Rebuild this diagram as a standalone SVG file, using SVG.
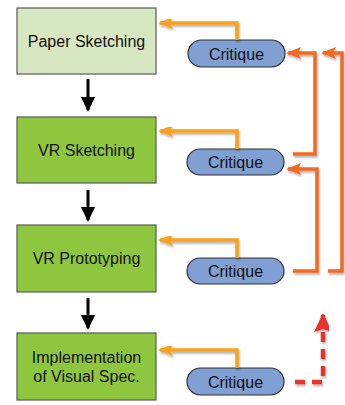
<svg xmlns="http://www.w3.org/2000/svg" width="345" height="405" viewBox="0 0 345 405">
<defs>
<style>
.box{stroke:#5a5a5a;stroke-width:1.2}
.b1{fill:#d7e7c1}
.b2{fill:#8fc63f}
.crit{fill:#809fd3;stroke:#333;stroke-width:1.2}
.t{font-family:"Liberation Sans",Arial,sans-serif;font-size:16px;fill:#111;text-anchor:middle}
.fb{fill:none;stroke:#f7a11a;stroke-width:3.5;filter:url(#sh)}
.rl{fill:none;stroke:#f26a21;stroke-width:3.5;filter:url(#sh)}
.dl{fill:none;stroke:#e8312a;stroke-width:4.5;stroke-dasharray:10,7;filter:url(#sh)}
.dn{fill:none;stroke:#000;stroke-width:3}
</style>
<filter id="sh" x="-20%" y="-20%" width="140%" height="140%">
<feDropShadow dx="1" dy="2" stdDeviation="1.2" flood-color="#000" flood-opacity="0.3"/>
</filter>
<marker id="ao" markerWidth="15" markerHeight="12" refX="13" refY="6" orient="auto" markerUnits="userSpaceOnUse"><path d="M0,0 L15,6 L0,12 L3,6 z" fill="#f7a11a"/></marker>
<marker id="ar" markerWidth="15" markerHeight="12" refX="13" refY="6" orient="auto" markerUnits="userSpaceOnUse"><path d="M0,0 L15,6 L0,12 L3,6 z" fill="#f26a21"/></marker>
<marker id="ad" markerWidth="19" markerHeight="18" refX="17" refY="9" orient="auto" markerUnits="userSpaceOnUse"><path d="M0,0 L19,9 L0,18 L3,9 z" fill="#e8312a"/></marker>
<marker id="ak" markerWidth="15" markerHeight="14" refX="13" refY="7" orient="auto" markerUnits="userSpaceOnUse"><path d="M0,0 L15,7 L0,14 z" fill="#000"/></marker>
</defs>
<rect width="345" height="405" fill="#fff"/>
<g id="n1"><rect class="box b1" x="17" y="8" width="139" height="66"/><text class="t" x="86.5" y="47">Paper Sketching</text></g>
<g id="n2"><rect class="box b2" x="17" y="117" width="139" height="66"/><text class="t" x="86.5" y="156">VR Sketching</text></g>
<g id="n3"><rect class="box b2" x="17" y="225" width="139" height="67"/><text class="t" x="86.5" y="264">VR Prototyping</text></g>
<g id="n4"><rect class="box b2" x="17" y="333" width="139" height="67"/><text class="t" x="86.5" y="363">Implementation</text><text class="t" x="86.5" y="382">of Visual Spec.</text></g>
<g id="c1"><rect class="crit" x="188" y="40" width="97" height="27" rx="13.5"/><text class="t" x="236.5" y="59.5">Critique</text></g>
<g id="c2"><rect class="crit" x="187" y="149" width="97" height="26" rx="13"/><text class="t" x="235.5" y="168">Critique</text></g>
<g id="c3"><rect class="crit" x="187" y="258" width="97" height="26" rx="13"/><text class="t" x="235.5" y="277">Critique</text></g>
<g id="c4"><rect class="crit" x="187" y="368" width="97" height="27" rx="13.5"/><text class="t" x="235.5" y="387.5">Critique</text></g>
<g id="connectors">
<path class="dn" d="M88,79 V110" marker-end="url(#ak)"/>
<path class="dn" d="M88,190 V220" marker-end="url(#ak)"/>
<path class="dn" d="M88,298 V328" marker-end="url(#ak)"/>
<path class="fb" d="M237,40 V23 H160" marker-end="url(#ao)"/>
<path class="fb" d="M158,53 H184" marker-end="url(#ao)"/>
<path class="fb" d="M237,149 V131 H160" marker-end="url(#ao)"/>
<path class="fb" d="M158,163 H184" marker-end="url(#ao)"/>
<path class="fb" d="M237,258 V240 H160" marker-end="url(#ao)"/>
<path class="fb" d="M158,272 H184" marker-end="url(#ao)"/>
<path class="fb" d="M237,368 V350 H160" marker-end="url(#ao)"/>
<path class="fb" d="M158,382 H184" marker-end="url(#ao)"/>
<path class="rl" d="M293,154 H315 V53 H288" marker-end="url(#ar)"/>
<path class="rl" d="M293,271 H317 V169 H288" marker-end="url(#ar)"/>
<path class="rl" d="M328,271 H342 V53 H323" marker-end="url(#ar)"/>
<path class="dl" d="M295,382 H323 V315" marker-end="url(#ad)"/>
</g>
</svg>
